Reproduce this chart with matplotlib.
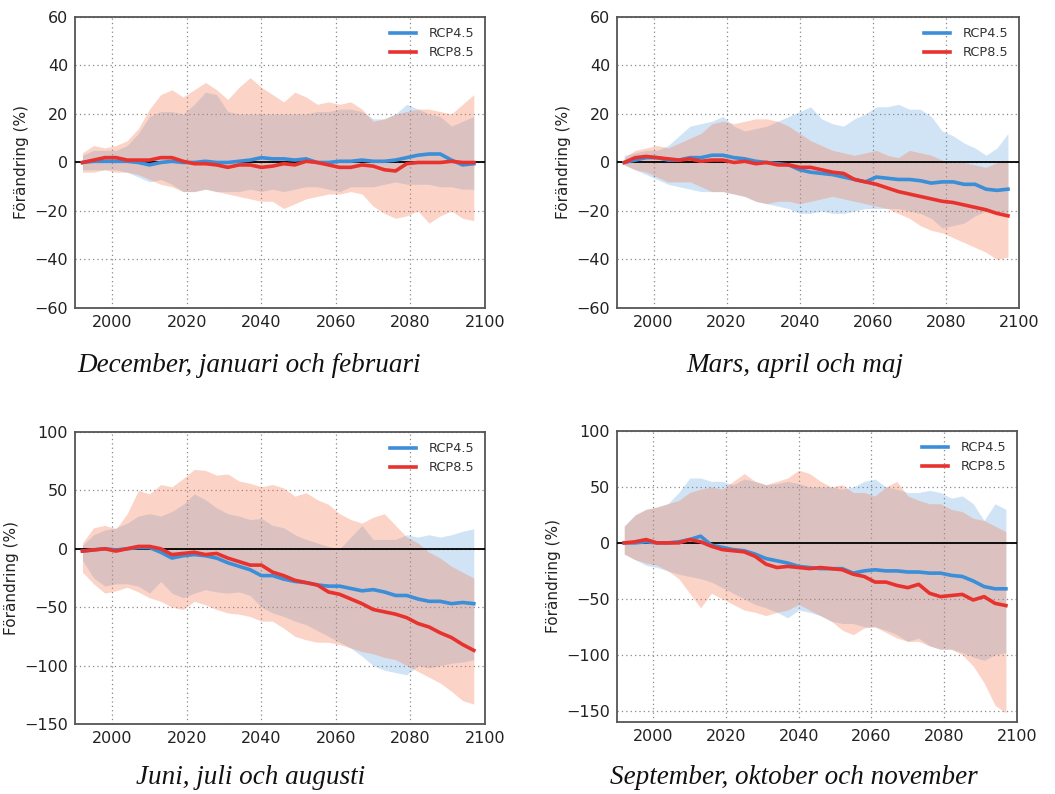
import numpy as np
import matplotlib
matplotlib.use("Agg")
import matplotlib.pyplot as plt

years = [1992, 1995, 1998, 2001, 2004, 2007, 2010, 2013, 2016, 2019, 2022, 2025,
         2028, 2031, 2034, 2037, 2040, 2043, 2046, 2049, 2052, 2055, 2058, 2061,
         2064, 2067, 2070, 2073, 2076, 2079, 2082, 2085, 2088, 2091, 2094, 2097]

# --- December, januari och februari ---
djf_m45 = [0, 0.5, 0.5, 0.5, 0.5, 0, -1, 0, 0.5, 0, 0, 0.5, 0, 0, 0.5, 1, 2, 1.5, 1.5, 1, 1.5, 0,
           0, 0.5, 0.5, 1, 0.5, 0.5, 1, 2, 3, 3.5, 3.5, 1, -1, -0.5]
djf_m85 = [0, 1, 2, 2, 1, 1, 1, 2, 2, 0.5, -0.5, -0.5, -1, -2, -1, -1, -2, -1.5, -0.5, -1, 0.5, 0,
           -1, -2, -2, -1, -1.5, -3, -3.5, -0.5, 0, 0, 0, 0.5, 0, 0]
djf_hi85 = [4, 7, 6, 7, 9, 14, 22, 28, 30, 27, 30, 33, 30, 26, 31, 35, 31, 28, 25, 29, 27, 24,
            25, 24, 25, 22, 17, 18, 20, 21, 22, 22, 21, 20, 24, 28]
djf_lo85 = [-4, -4, -3, -4, -4, -5, -7, -9, -10, -12, -12, -11, -12, -13, -14, -15, -16, -16, -19, -17,
            -15, -14, -13, -13, -12, -13, -18, -21, -23, -22, -20, -25, -22, -20, -23, -24]
djf_hi45 = [3, 5, 5, 5, 7, 12, 19, 21, 21, 20, 24, 29, 28, 21, 20, 20, 20, 20, 20, 20, 20, 21,
            21, 22, 22, 21, 18, 18, 20, 24, 22, 20, 19, 15, 17, 19]
djf_lo45 = [-3, -3, -3, -3, -4, -6, -8, -7, -9, -12, -12, -11, -12, -12, -12, -11, -12, -11, -12, -11,
            -10, -10, -11, -12, -10, -10, -10, -9, -8, -9, -9, -9, -10, -10, -11, -11]

# --- Mars, april och maj ---
mam_m45 = [0, 1, 2, 2, 1, 1, 2, 2, 3, 3, 2, 1.5, 0.5, 0, -0.5, -1, -3, -4, -4.5, -5, -6, -7,
           -8, -6, -6.5, -7, -7, -7.5, -8.5, -8, -8, -9, -9, -11, -11.5, -11]
mam_m85 = [0, 2, 2.5, 2, 1.5, 1, 1.5, 0.5, 1, 1, 0, 0.5, -0.5, 0, -1, -1, -2, -2, -3, -4, -4.5, -7,
           -8, -9, -10.5, -12, -13, -14, -15, -16, -16.5, -17.5, -18.5, -19.5, -21, -22]
mam_hi45 = [3, 4, 5, 5, 7, 11, 15, 16, 17, 19, 15, 13, 14, 15, 17, 19, 21, 23, 18, 16, 15, 18,
            20, 23, 23, 24, 22, 22, 19, 13, 11, 8, 6, 3, 6, 12]
mam_lo45 = [-1, -3, -5, -7, -9, -10, -11, -12, -12, -12, -13, -14, -16, -17, -18, -19, -21, -21, -20,
            -21, -21, -20, -19, -19, -19, -19, -20, -21, -23, -27, -26, -25, -22, -20, -21, -22]
mam_hi85 = [2, 5, 6, 7, 6, 8, 10, 12, 16, 17, 16, 17, 18, 18, 17, 15, 12, 9, 7, 5, 4, 3,
            4, 5, 3, 2, 5, 4, 3, 1, 0, 0, -1, -2, 0, 1]
mam_lo85 = [-1, -3, -4, -6, -8, -8, -8, -10, -12, -12, -13, -14, -16, -17, -16, -16, -17, -16, -15,
            -14, -15, -16, -17, -18, -19, -21, -23, -26, -28, -29, -31, -33, -35, -37, -40, -39]

# --- Juni, juli och augusti ---
jja_m45 = [-2, -1, 0, -1, 0, 1, 1, -3, -8, -6, -5, -6, -8, -12, -15, -18, -23, -23, -26, -28, -29,
           -31, -32, -32, -34, -36, -35, -37, -40, -40, -43, -45, -45, -47, -46, -47]
jja_m85 = [-2, -1, 0, -2, 0, 2, 2, 0, -5, -4, -3, -5, -4, -8, -11, -14, -14, -20, -23, -27, -29,
           -31, -37, -39, -43, -47, -52, -54, -56, -59, -64, -67, -72, -76, -82, -87]
jja_hi85 = [5, 18, 20, 17, 30, 50, 47, 55, 53, 60, 68, 67, 63, 64, 58, 56, 53, 55, 52, 45, 48,
            42, 38, 30, 25, 22, 27, 30, 20, 10, 5, -3, -8, -15, -20, -25]
jja_lo85 = [-20, -30, -38, -36, -33, -37, -42, -45, -50, -52, -45, -48, -52, -55, -56, -58, -62, -62,
            -68, -75, -78, -80, -80, -82, -85, -88, -90, -93, -95, -100, -105, -110, -115, -122, -130, -133]
jja_hi45 = [3, 12, 16, 18, 22, 28, 30, 28, 32, 38, 47, 42, 35, 30, 28, 25, 26, 20, 18, 12, 8,
            5, 2, 0, 10, 20, 8, 8, 8, 12, 10, 12, 10, 12, 15, 17]
jja_lo45 = [-10, -25, -32, -30, -30, -32, -38, -28, -38, -42, -38, -35, -37, -38, -37, -40, -50, -55,
            -58, -62, -65, -70, -75, -80, -85, -92, -100, -104, -106, -108, -100, -102, -100, -98, -97, -95]

# --- September, oktober och november ---
son_m45 = [0, 0, 1, 0, 0, 1, 3, 6, -2, -4, -6, -7, -10, -14, -16, -18, -21, -22, -23, -23, -23,
           -27, -25, -24, -25, -25, -26, -26, -27, -27, -29, -30, -34, -39, -41, -41]
son_m85 = [0, 1, 3, 0, 0, 0, 3, 1, -3, -6, -7, -8, -12, -19, -22, -21, -22, -23, -22, -23, -24,
           -28, -30, -35, -35, -38, -40, -37, -45, -48, -47, -46, -51, -48, -54, -56]
son_hi45 = [15, 25, 30, 32, 35, 45, 58, 58, 55, 55, 52, 57, 55, 52, 53, 55, 53, 50, 50, 50, 48,
            50, 55, 57, 50, 48, 45, 45, 47, 45, 40, 42, 35, 20, 35, 30]
son_lo45 = [-10, -15, -20, -22, -25, -28, -30, -32, -35, -40, -45, -50, -55, -58, -62, -67, -60, -62,
            -65, -70, -72, -72, -75, -75, -78, -82, -88, -85, -92, -95, -95, -98, -102, -105, -100, -98]
son_hi85 = [15, 25, 30, 32, 35, 38, 45, 48, 50, 48, 55, 62, 55, 52, 55, 58, 65, 62, 55, 50, 52,
            45, 45, 42, 50, 55, 42, 38, 35, 35, 30, 28, 22, 20, 15, 10]
son_lo85 = [-10, -15, -18, -20, -25, -32, -45, -58, -45, -50, -55, -60, -62, -65, -62, -60, -55, -60,
            -65, -70, -78, -82, -76, -75, -80, -85, -88, -88, -92, -95, -95, -100, -110, -125, -145, -152]

captions = ["December, januari och februari", "Mars, april och maj",
            "Juni, juli och augusti", "September, oktober och november"]
ylims = [(-60, 60), (-60, 60), (-150, 100), (-160, 100)]
yticks = [[-60, -40, -20, 0, 20, 40, 60], [-60, -40, -20, 0, 20, 40, 60],
          [-150, -100, -50, 0, 50, 100], [-150, -100, -50, 0, 50, 100]]
xticks = [2000, 2020, 2040, 2060, 2080, 2100]
series_labels = ["RCP4.5", "RCP8.5"]

panels = [
    (djf_m45, djf_lo45, djf_hi45, djf_m85, djf_lo85, djf_hi85),
    (mam_m45, mam_lo45, mam_hi45, mam_m85, mam_lo85, mam_hi85),
    (jja_m45, jja_lo45, jja_hi45, jja_m85, jja_lo85, jja_hi85),
    (son_m45, son_lo45, son_hi45, son_m85, son_lo85, son_hi85),
]

positions = [
    [0.0711, 0.6121, 0.3886, 0.3665],
    [0.5848, 0.6121, 0.3810, 0.3665],
    [0.0711, 0.0882, 0.3886, 0.3678],
    [0.5848, 0.0907, 0.3790, 0.3665],
]
caption_xy = [(249, 365), (795, 365), (251, 777), (794, 777)]

W, H = 1055, 794
fig = plt.figure(figsize=(W / 100, H / 100), dpi=100)

blue = "#3b8ed8"
red = "#e8322e"
band_blue = "#4a97de"
band_red = "#f47a52"

for i, (m45, lo45, hi45, m85, lo85, hi85) in enumerate(panels):
    ax = fig.add_axes(positions[i])
    ax.fill_between(years, lo45, hi45, color=band_blue, alpha=0.25, linewidth=0)
    ax.fill_between(years, lo85, hi85, color=band_red, alpha=0.32, linewidth=0)
    ax.axhline(0, color="black", linewidth=1.3, zorder=3)
    ax.plot(years, m45, color=blue, linewidth=2.6, label=series_labels[0], zorder=4)
    ax.plot(years, m85, color=red, linewidth=2.6, label=series_labels[1], zorder=5)
    ax.set_xlim(1990, 2100)
    ax.set_ylim(*ylims[i])
    ax.set_xticks(xticks)
    ax.set_yticks(yticks[i])
    ax.grid(True, linestyle=(0, (1, 2.5)), color="#888888", linewidth=0.9)
    ax.set_axisbelow(True)
    ax.tick_params(direction="in", length=0, labelsize=11.5, colors="#222222", pad=5)
    for sp in ax.spines.values():
        sp.set_color("#555555")
        sp.set_linewidth(1.3)
    ax.set_ylabel("Förändring (%)", fontsize=11, color="#222222", labelpad=4)
    leg = ax.legend(loc="upper right", frameon=False, fontsize=9.3, handlelength=2.0,
                    handletextpad=1.0, borderaxespad=0.4, labelspacing=0.45)
    for t in leg.get_texts():
        t.set_color("#333333")
    cx, cy = caption_xy[i]
    fig.text(cx / W, 1 - cy / H, captions[i], ha="center", va="center",
             family="Liberation Serif", style="italic", fontsize=19.5, color="#111111")

fig.savefig("out.png", dpi=100)
